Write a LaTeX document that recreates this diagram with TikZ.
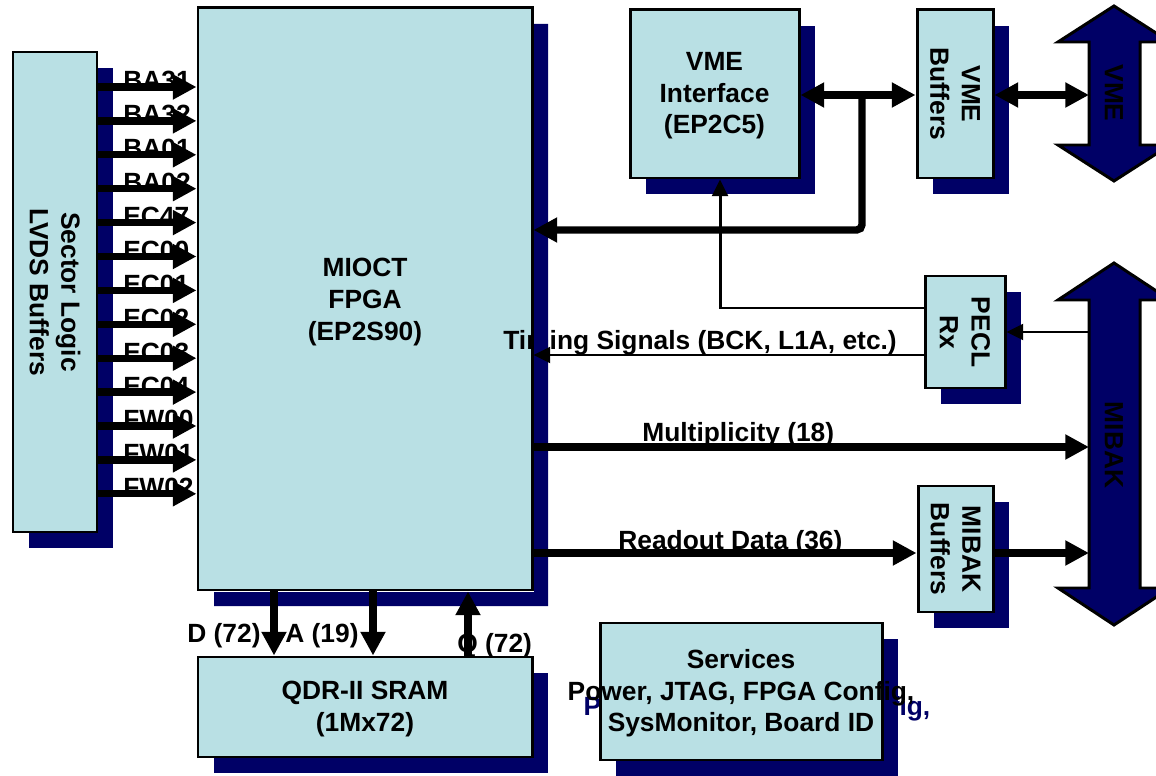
\documentclass[tikz,border=0pt]{standalone}
\usepackage{fontspec}
\setmainfont{Liberation Sans}
\usetikzlibrary{arrows.meta,shadows}
\definecolor{boxfill}{RGB}{185,224,228}
\definecolor{navy}{RGB}{0,0,102}
\newdimen\pxu \pxu=0.02cm
\tikzset{
  x=0.02cm, y=-0.02cm,
  every node/.style={font=\fontsize{15}{18}\selectfont\bfseries, inner sep=0pt},
  plainblk/.style={draw=black, line width=1.7pt, fill=boxfill},
  blk/.style={plainblk, drop shadow={shadow xshift=16\pxu, shadow yshift=-16\pxu, fill=navy, opacity=1}},
  fatarrow/.style={line width=4.2pt, -{Triangle[length=13.5pt,width=13.5pt]}},
  fatdbl/.style={line width=4.2pt, {Triangle[length=13.5pt,width=13.5pt]}-{Triangle[length=13.5pt,width=13.5pt]}},
  slimarrow/.style={line width=1.7pt, -{Triangle[length=9.5pt,width=9pt]}},
  bus/.style={draw=black, line width=1.7pt, fill=navy},
  rot/.style={rotate=-90, align=center},
}
\begin{document}
\begin{tikzpicture}
\useasboundingbox (0,0) rectangle (1156,776);
\clip (0,0) rectangle (1156,776);

% boxes
\node[blk, minimum width=84\pxu, minimum height=480\pxu] (sl) at (55,292) {};
\node[rot] (sllab) at (sl.center) {Sector Logic\\LVDS Buffers};

\node[plainblk, minimum width=334\pxu, minimum height=582\pxu] (fpga) at (365,299) {};
\node[align=center] (fpgalab) at (365,302) {MIOCT\\FPGA\\(EP2S90)};

\node[blk, minimum width=169\pxu, minimum height=168\pxu] (vmeif) at (714.5,94) {};
\node[align=center] (vmeiflab) at (714.5,96) {VME\\Interface\\(EP2C5)};

\node[blk, minimum width=76\pxu, minimum height=168\pxu] (vmebuf) at (955,94) {};
\node[rot] (vmebuflab) at (vmebuf.center) {VME\\Buffers};

\node[blk, minimum width=80\pxu, minimum height=112\pxu] (pecl) at (965,332) {};
\node[rot] (pecllab) at (pecl.center) {PECL\\Rx};

\node[blk, minimum width=75\pxu, minimum height=126\pxu] (mibuf) at (955.5,549) {};
\node[rot] (mibuflab) at (mibuf.center) {MIBAK\\Buffers};

\node[blk, minimum width=334\pxu, minimum height=100\pxu] (sram) at (365,707) {};
\node[align=center] (sramlab) at (365,709) {QDR-II SRAM\\(1Mx72)};

% services, with the shadow of its text
\node[align=center, text=navy] (servshadow) at (757,708.5) {Services\\Power, JTAG, FPGA Config,\\SysMonitor, Board ID};
\node[blk, minimum width=282\pxu, minimum height=137\pxu] (serv) at (741,691.5) {};
\node[align=center] (servlab) at (741,693.5) {Services\\Power, JTAG, FPGA Config,\\SysMonitor, Board ID};

% timing label, under the FPGA shadow
\node[anchor=base west] (timinglab) at (503,350) {Timing Signals (BCK, L1A, etc.)};
\fill[navy] (534,24) -- (548,24) -- (548,606) -- (214,606) -- (214,592) -- (534,592) -- cycle;

% bus arrows
\draw[bus] (1114,6) -- (1170,42) -- (1140,42) -- (1140,145) -- (1170,145) -- (1114,181)
  -- (1058,145) -- (1089,145) -- (1089,42) -- (1058,42) -- cycle;
\node[rotate=-90] (vmebus) at (1114,93) {VME};
\draw[bus] (1114,263) -- (1170,300) -- (1140,300) -- (1140,588) -- (1170,588) -- (1114,625)
  -- (1058,588) -- (1089,588) -- (1089,300) -- (1058,300) -- cycle;
\node[rotate=-90] (mibak) at (1114,445) {MIBAK};

\coordinate (vmeport) at (1089,95);
\coordinate (vmebranch) at (862,95);
\coordinate (mibakpecl) at (1089,332);
\coordinate (mibakmult) at (1089,447);
\coordinate (mibakro) at (1089,553);

% sector inputs
\foreach \lab [count=\i from 0] in {BA31,BA32,BA01,BA02,EC47,EC00,EC01,EC02,EC03,EC04,FW00,FW01,FW02} {
  \pgfmathsetmacro\yy{87+33.9*\i}
  \node[anchor=base west] (in\i) at (123,\yy+3) {\lab};
  \draw[fatarrow] (sl.east |- 0,\yy) -- (fpga.west |- 0,\yy);
}

% labels
\node[anchor=base west] (multlab) at (642,442) {Multiplicity (18)};
\node[anchor=base west] (rolab) at (618,549) {Readout Data (36)};
\node[anchor=base west] (dlab) at (187,642) {D (72)};
\node[anchor=base west] (alab) at (285,642) {A (19)};
\node[anchor=base west] (qlab) at (457,652) {Q (72)};

% VME connections
\draw[fatdbl] (vmeif.east |- 0,95) -- (vmebuf.west |- 0,95);
\draw[fatdbl] (vmebuf.east |- 0,95) -- (vmeport);
\draw[fatarrow, rounded corners=3pt] (vmebranch) -- (862,230) -- (fpga.east |- 0,230);

% PECL connections
\draw[slimarrow] (pecl.west |- 0,308) -- (720,308) -- (vmeif.south -| 720,0);
\draw[slimarrow] (mibakpecl) -- (pecl.east |- 0,332);
\draw[slimarrow] (pecl.west |- 0,355) -- (fpga.east |- 0,355);

% MIBAK connections
\draw[fatarrow] (fpga.east |- 0,447) -- (mibakmult);
\draw[fatarrow] (fpga.east |- 0,553) -- (mibuf.west |- 0,553);
\draw[fatarrow] (mibuf.east |- 0,553) -- (mibakro);

% SRAM
\draw[fatarrow] (fpga.south -| 274,0) -- (sram.north -| 274,0);
\draw[fatarrow] (fpga.south -| 373,0) -- (sram.north -| 373,0);
\draw[fatarrow] (sram.north -| 468,0) -- (fpga.south -| 468,0);
\end{tikzpicture}
\end{document}
